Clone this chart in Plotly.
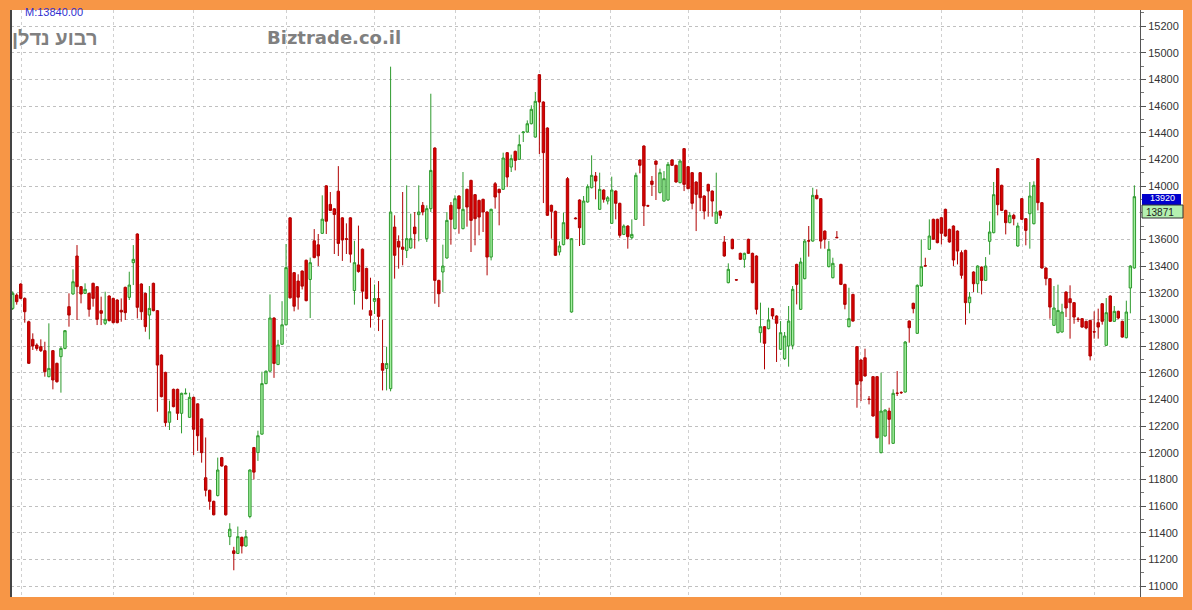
import plotly.graph_objects as go

opens = [
13082,13182,13265,13157,12982,12850,12807,12795,12765,12570,
12765,12670,12720,12782,13095,13190,13475,13245,13195,13195,
13270,13245,13065,12970,13175,13157,13145,13068,13240,13165,
13425,13640,13265,13195,13032,13270,13065,12732,12602,12228,
12475,12475,12295,12440,12265,12415,12366,12253,11812,11718,
11635,11678,11963,11900,11370,11264,11244,11365,11300,11521,
12038,12001,12139,12518,12611,13010,12661,12813,12959,13761,
13350,13287,13362,13443,13299,13589,13559,13645,14001,13862,
13829,13961,13761,13605,13761,13216,13408,13526,13382,13065,
13135,13156,12669,12631,12480,13692,13585,13542,13517,13535,
13692,13785,13855,13605,13830,14285,13292,13355,13460,13855,
13680,13925,13680,13975,14042,13935,13892,13900,13805,13467,
14017,13975,13975,14250,14142,14260,14200,14400,14405,14467,
14367,14835,14630,14435,13855,13810,13505,13560,14055,13055,
13760,13895,13562,13880,13987,14075,13825,13970,13887,13720,
13962,13870,13637,13700,13612,13750,14195,14300,13852,14037,
14187,13950,13887,13895,14195,14155,14025,14280,14145,14100,
14030,14100,13925,14012,13962,13720,13812,13580,13275,13600,
13297,13495,13450,13600,13495,13475,12900,12945,12930,13080,
13025,12775,12705,12800,12805,13412,13075,13305,13590,13587,
13930,13905,13662,13395,13312,13615,13412,13262,12945,13187,
12795,12695,12712,12402,12570,12570,12000,12125,12312,12070,
12447,12452,12455,12987,13120,12895,13250,13402,13525,13750,
13750,13762,13825,13675,13700,13662,13500,13517,13125,13355,
13267,13392,13292,13585,13650,14130,14005,13817,13725,13780,
13550,13905,13755,13792,13717,14205,13875,13385,13305,12955,
12900,12905,13205,13155,13125,13002,13005,12985,12992,12907,
12975,13117,12805,13175,12985,13060,12985,12862,13235,13385]

highs = [
13210,13195,13270,13165,12990,12895,12820,12850,12832,12970,
12770,12675,12795,12920,13195,13375,13557,13250,13270,13200,
13275,13250,13170,13207,13180,13162,13150,13157,13245,13357,
13557,13645,13270,13200,13250,13275,13070,12737,12607,12390,
12480,12480,12450,12482,12450,12420,12370,12258,12114,11722,
11640,11963,11968,11905,11471,11294,11446,11370,11420,11875,
12043,12165,12607,12616,13187,13015,12846,13136,13565,13766,
13355,13338,13367,13448,13463,13677,13640,13930,14006,13955,
13834,14149,13766,13720,13766,13589,13703,13531,13387,13312,
13261,13287,12998,12795,14895,13780,13630,13955,14005,13792,
13805,14005,13880,13855,14692,14290,13297,13560,13805,13880,
13930,13930,14105,13980,14047,13940,13897,13905,13810,13830,
14030,13980,14250,14255,14235,14265,14385,14410,14492,14605,
14705,14840,14635,14440,13860,13815,13585,13800,14067,13610,
13765,13900,13925,14012,14230,14105,14100,13975,13925,14070,
13967,13875,13712,13705,13750,14100,14200,14305,13860,14075,
14192,14130,14112,14180,14200,14160,14200,14285,14150,14105,
14035,14105,13930,14017,13967,14100,13817,13625,13420,13605,
13300,13500,13500,13605,13500,13480,13125,12950,13087,13085,
13030,12987,12905,13100,13250,13417,13462,13600,13700,13987,
13975,13910,13667,13587,13462,13662,13417,13267,13237,13192,
12800,12700,12780,12425,12575,12575,12600,12325,12337,12475,
12612,12460,12837,12992,13125,13262,13600,13462,13750,13755,
13755,13767,13830,13680,13705,13667,13517,13522,13205,13360,
13405,13397,13467,13735,14030,14135,14010,13822,13805,13792,
13725,13910,13760,14030,14035,14210,13880,13390,13310,13250,
13260,13117,13210,13255,13130,13017,13010,12990,12997,13060,
13080,13122,13160,13180,13100,13065,12990,13140,13405,14005]

lows = [
13070,13110,13150,12975,12665,12770,12765,12755,12570,12565,
12475,12525,12450,12775,12945,13185,12995,13120,13190,13020,
13095,12957,12957,12957,12985,12970,12970,12982,12995,13145,
13257,13007,12995,12907,12850,13060,12307,12415,12195,12170,
12340,12245,12145,12440,12260,11982,12013,11925,11672,11572,
11530,11672,11895,11528,11307,11118,11240,11244,11295,11508,
11799,11938,12135,12513,12606,12561,12656,12808,12954,13156,
13060,13073,13224,13135,13010,13458,13400,13640,13640,13812,
13490,13475,13438,13490,13425,13110,13350,13073,13150,12938,
13040,12912,12467,12467,12460,13305,13380,13405,13460,13530,
13530,13585,13780,13580,13805,13117,13092,13205,13455,13560,
13675,13642,13675,13695,13505,13555,13630,13655,13330,13442,
13830,13705,13970,13992,14105,14117,14195,14330,14400,14462,
14362,14240,13872,13775,13605,13475,13480,13555,13600,13050,
13750,13550,13557,13875,13982,13900,13820,13875,13862,13715,
13750,13612,13632,13530,13600,13745,14095,13700,13845,13925,
13895,13945,13882,13890,14150,14025,14020,13962,13975,13825,
13662,13812,13750,13770,13770,13715,13755,13470,13270,13525,
13290,13445,13387,13490,13270,13037,12825,12625,12925,13000,
12680,12770,12695,12645,12775,13112,13070,13300,13470,13582,
13900,13530,13530,13390,13307,13610,13257,13075,12940,12982,
12337,12387,12570,12362,12270,12107,11995,12120,12062,12065,
12425,12440,12450,12825,13045,12890,13245,13398,13520,13595,
13570,13562,13620,13575,13400,13412,13305,12960,13045,13205,
13200,13187,13287,13485,13645,13780,13812,13637,13720,13705,
13545,13745,13555,13530,13712,13817,13380,13255,13005,12950,
12895,12900,13017,12855,12967,12980,12937,12925,12692,12855,
12855,12960,12800,12980,12980,13000,12862,12857,13045,13380]

closes = [
13195,13132,13157,13057,12670,12800,12782,12765,12607,12632,
12545,12532,12782,12915,13032,13282,13245,13190,13225,13075,
13157,13000,13045,13000,12990,12975,12975,13055,13050,13257,
13450,13090,13057,12945,13082,13065,12657,12420,12225,12307,
12345,12295,12445,12445,12415,12175,12127,12000,11718,11635,
11534,11870,11900,11534,11426,11244,11370,11300,11370,11870,
11854,12127,12518,12611,13010,12669,12808,12959,13388,13161,
13098,13166,13249,13140,13425,13463,13476,13751,13736,13817,
13786,13569,13595,13600,13489,13425,13358,13211,13156,13030,
13156,13022,12618,12669,13805,13480,13542,13525,13605,13605,
13642,13805,13805,13830,14117,13292,13192,13400,13742,13750,
13905,13830,13825,13842,13742,13755,13767,13805,13467,13825,
13917,13950,14210,14067,14205,14192,14310,14405,14467,14575,
14635,14630,14250,13780,13810,13480,13550,13725,13605,13605,
13755,13687,13887,13995,14080,14037,13975,13900,13912,13970,
13870,13630,13700,13620,13637,14080,14155,13850,13850,14012,
14162,14100,14055,14162,14155,14030,14187,14012,13980,13870,
13937,13912,13812,13962,13887,13805,13780,13475,13375,13530,
13295,13450,13495,13495,13275,13075,12945,12820,12995,13025,
12970,12900,12875,12987,13225,13262,13430,13587,13587,13930,
13905,13587,13600,13525,13420,13612,13262,13112,13005,12987,
12512,12537,12575,12400,12275,12112,12312,12320,12250,12445,
12445,12450,12830,12937,13080,13255,13395,13400,13625,13600,
13575,13645,13625,13580,13445,13512,13330,13125,13167,13267,
13400,13292,13400,13655,13935,13860,13817,13725,13780,13755,
13700,13750,13667,13925,14005,13875,13385,13305,13092,13085,
13067,13055,13085,13125,13017,13000,12942,12935,12725,12905,
12942,12985,13050,12985,13060,13010,12867,13055,13400,13920]

# month separators (positions on the bar index axis)
month_marks = [2.2, 25.1, 44.9, 68.2, 90.1, 110.2, 131.0, 148.8, 168.1, 190.9, 211.0, 231.1, 251.2, 269.0]
y_ticks = list(range(11000, 15201, 200))
hidden_tick = 13800   # covered by the price boxes in the original
last_price = 13920
avg_price = 13871
cursor_text = "M:13840.00"
title_he = "רבוע נדלן"
site_text = "Biztrade.co.il"

x = list(range(len(opens)))

ORANGE = "#F79646"

fig = go.Figure()
fig.add_trace(go.Candlestick(
    x=x, open=opens, high=highs, low=lows, close=closes,
    increasing=dict(line=dict(color="#2E9A2E", width=1), fillcolor="#A4F0A0"),
    decreasing=dict(line=dict(color="#B00000", width=1), fillcolor="#D80000"),
    whiskerwidth=0, showlegend=False, hoverinfo="skip",
))

W, H = 1192, 610
L_, R_, T_, B_ = 11, 52, 10, 13
pw = W - L_ - R_
ph = H - T_ - B_

def px2paper_x(px):
    return (px - L_) / pw

def px2paper_y(py):
    return 1 - (py - T_) / ph

shapes = [
    # white column behind price scale
    dict(type="rect", xref="paper", yref="paper", x0=1, x1=px2paper_x(1183), y0=0, y1=1,
         fillcolor="white", line=dict(width=0), layer="below"),
    # left dark border
    dict(type="line", xref="paper", yref="paper", x0=0, x1=0, y0=0, y1=1,
         line=dict(color="#444444", width=2)),
    # blue last-price box
    dict(type="rect", xref="paper", yref="paper", x0=px2paper_x(1142), x1=px2paper_x(1181),
         y0=px2paper_y(205), y1=px2paper_y(194), fillcolor="#0000CC", line=dict(width=0)),
    # green box
    dict(type="rect", xref="paper", yref="paper", x0=px2paper_x(1142), x1=px2paper_x(1183),
         y0=px2paper_y(218), y1=px2paper_y(205), fillcolor="#B4F0B0",
         line=dict(color="#333333", width=1)),
]

annotations = [
    dict(text=cursor_text, xref="paper", yref="paper", x=px2paper_x(23), y=px2paper_y(12),
         xanchor="left", yanchor="middle", showarrow=False,
         font=dict(family="Liberation Sans", size=11, color="#3030D0")),
    dict(text=title_he, xref="paper", yref="paper", x=px2paper_x(10), y=px2paper_y(38),
         xanchor="left", yanchor="middle", showarrow=False,
         font=dict(family="Liberation Sans", size=20, color="#808080", weight="bold")),
    dict(text=site_text, xref="paper", yref="paper", x=px2paper_x(265), y=px2paper_y(37),
         xanchor="left", yanchor="middle", showarrow=False,
         font=dict(family="DejaVu Sans", size=18, color="#808080", weight="bold")),
    dict(text=str(last_price), xref="paper", yref="paper", x=px2paper_x(1162), y=px2paper_y(197.5),
         xanchor="center", yanchor="middle", showarrow=False, borderpad=0,
         font=dict(family="Liberation Sans", size=9, color="white")),
    dict(text=str(avg_price), xref="paper", yref="paper", x=px2paper_x(1160), y=px2paper_y(212.5),
         xanchor="center", yanchor="middle", showarrow=False, borderpad=0,
         font=dict(family="Liberation Sans", size=10, color="#222222")),
]

fig.update_layout(
    width=W, height=H,
    margin=dict(l=L_, r=R_, t=T_, b=B_, pad=0),
    paper_bgcolor=ORANGE, plot_bgcolor="white",
    shapes=shapes, annotations=annotations,
    boxgap=0.15,
    xaxis=dict(range=[-0.42, 280.4], rangeslider=dict(visible=False),
               tickmode="array", tickvals=month_marks, showticklabels=False, ticks="",
               showgrid=True, gridcolor="#D0D0D0", griddash="dot", gridwidth=1,
               zeroline=False, showline=False, fixedrange=True),
    yaxis=dict(range=[10917.5, 15320], side="right", tickmode="array", tickvals=y_ticks,
               ticktext=["" if v == hidden_tick else str(v) for v in y_ticks],
               showgrid=True, gridcolor="#C0C0C0", griddash="dot", gridwidth=1,
               zeroline=False, showline=True, linecolor="#555555", linewidth=1,
               ticks="outside", ticklen=5, tickcolor="#555555",
               minor=dict(tickmode="linear", dtick=100, tick0=0, ticks="outside", ticklen=3,
                          tickcolor="#777777", showgrid=False),
               tickfont=dict(family="Liberation Sans", size=11, color="#333333")),
    font=dict(family="Liberation Sans"),
)

fig.write_html("out.html", config={"displayModeBar": False},
               post_script="document.body.style.margin='0';document.body.style.overflow='hidden';")
